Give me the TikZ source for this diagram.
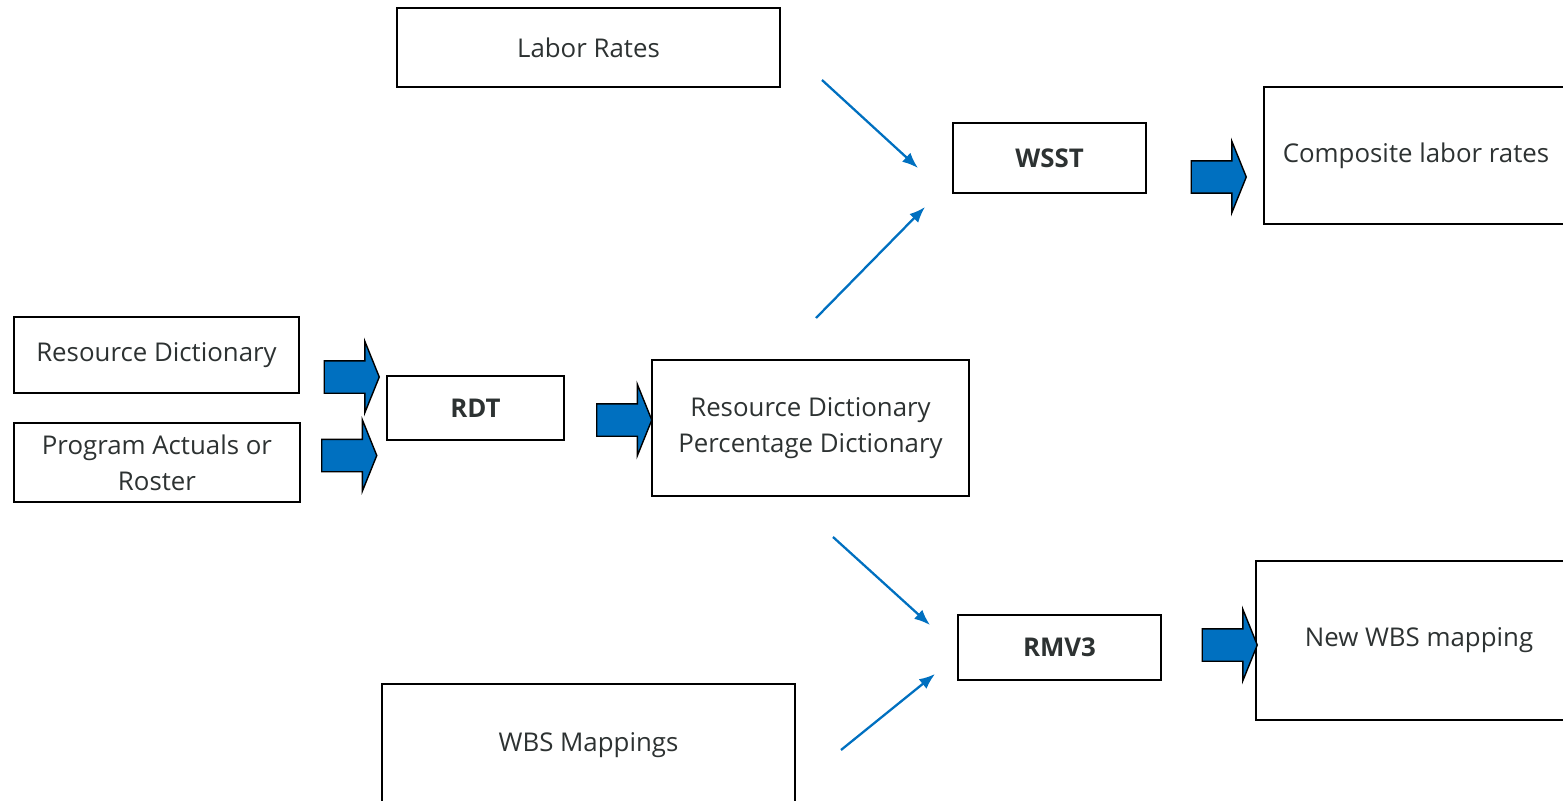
\documentclass[tikz,border=0pt]{standalone}
\usepackage{fontspec}
\setmainfont{Open Sans}
\usetikzlibrary{shapes.arrows,arrows.meta}
\definecolor{flowblue}{RGB}{0,112,192}
\definecolor{boxtext}{RGB}{45,50,50}
\tikzset{
  box/.style={draw=black,line width=0.9pt,align=center,inner sep=0pt,
    text=boxtext,font=\fontsize{14.7}{20.5}\selectfont},
  fat/.style={single arrow,draw=black,fill=flowblue,line width=0.8pt,
    inner xsep=0pt,inner ysep=0.31cm,minimum height=1.1cm,minimum width=1.4cm,
    single arrow head extend=0.39cm,single arrow tip angle=136,
    single arrow head indent=0pt}
}
\begin{document}
\begin{tikzpicture}[>={Latex[length=9pt,width=7pt]},x=0.02cm,y=-0.02cm]
\clip(0,0)rectangle(1563,801);
% boxes
\node[box,minimum width=7.66cm,minimum height=1.58cm](labor) at (588.5,47.5){Labor Rates};
\node[box,minimum width=3.86cm,minimum height=1.4cm,font=\fontsize{14.7}{20.5}\selectfont\bfseries](wsst) at (1049.5,158){WSST};
\node[box,minimum width=6.08cm,minimum height=2.74cm](composite) at (1416,155.5){Composite labor rates};
\node[box,minimum width=5.7cm,minimum height=1.52cm](resdict) at (156.5,355){Resource Dictionary};
\node[box,minimum width=5.72cm,minimum height=1.58cm](actuals) at (157,462.5){Program Actuals or\\Roster};
\node[box,minimum width=3.54cm,minimum height=1.28cm,font=\fontsize{14.7}{20.5}\selectfont\bfseries](rdt) at (475.5,408){RDT};
\node[box,minimum width=6.34cm,minimum height=2.72cm](pctdict) at (810.5,428){Resource Dictionary\\Percentage Dictionary};
\node[box,minimum width=4.06cm,minimum height=1.3cm,font=\fontsize{14.7}{20.5}\selectfont\bfseries](rmv) at (1059.5,647.5){RMV3};
\node[box,minimum width=6.52cm,minimum height=3.18cm](newwbs) at (1419,640.5){New WBS mapping};
\node[box,minimum width=8.26cm,minimum height=2.44cm](wbsmap) at (588.5,745){WBS Mappings};
% block arrows
\node[fat](arr1) at (348.5,377){};
\node[fat](arr2) at (346,455.5){};
\node[fat](arr3) at (621,420){};
\node[fat](arr4) at (1215.5,177){};
\node[fat](arr5) at (1226.5,645){};
% thin arrows
\coordinate(laborend) at (822,80);
\coordinate(wssttop) at (918,168);
\coordinate(pcttop) at (816,318);
\coordinate(wsstbot) at (925,207);
\coordinate(pctbot) at (833,537);
\coordinate(rmvtop) at (930,625);
\coordinate(wbsend) at (841,750);
\coordinate(rmvbot) at (935,674);
\draw[->,flowblue,line width=1.3pt](laborend)--(wssttop);
\draw[->,flowblue,line width=1.3pt](pcttop)--(wsstbot);
\draw[->,flowblue,line width=1.3pt](pctbot)--(rmvtop);
\draw[->,flowblue,line width=1.3pt](wbsend)--(rmvbot);
\end{tikzpicture}
\end{document}
